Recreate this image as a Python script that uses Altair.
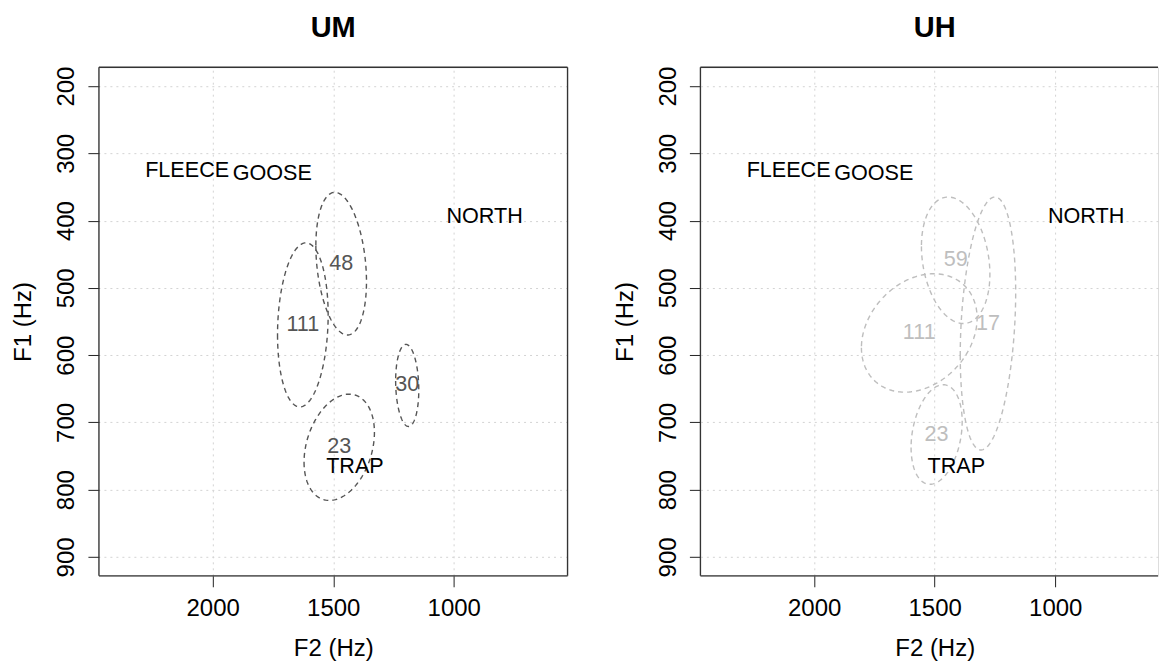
import numpy as np
import pandas as pd
import altair as alt

FONT = "Liberation Sans"

# Axis extents: 600-2400 Hz (F2) and 200-900 Hz (F1), each padded by 4 %
F2_RANGE = [528, 2472]
F1_RANGE = [172, 928]
F2_TICKS = [2000, 1500, 1000]
F1_TICKS = [200, 300, 400, 500, 600, 700, 800, 900]

# Reference vowel positions (same in both panels)
vowel_names = ["FLEECE", "GOOSE", "NORTH", "TRAP"]
vowel_f2 = [2106, 1753, 872, 1410]
vowel_f1 = [326, 331, 395, 766]

# Token ellipses per speaker group: centre, half-extent and F2/F1 correlation
ell_panel = ["UM", "UM", "UM", "UM", "UH", "UH", "UH", "UH"]
ell_n = [48, 111, 30, 23, 59, 111, 17, 23]
ell_f2 = [1467, 1626, 1193, 1475, 1413, 1564, 1279, 1492]
ell_f1 = [464, 555, 645, 737, 459, 567, 553, 718]
ell_half_f2 = [105, 105, 48, 146, 142, 240, 115, 106]
ell_half_f1 = [106, 122, 61, 79, 94, 88, 188, 74]
ell_r = [-0.25, 0.12, -0.11, 0.28, -0.22, 0.25, 0.25, 0.26]

panel_colors = {"UM": "#555555", "UH": "#bebebe"}

FULL_W = 469
PLOT_H = 509
PX_PER_HZ = FULL_W / (F2_RANGE[1] - F2_RANGE[0])
FRAME = "#333333"


def ellipse_outline(panel):
    t = np.linspace(0.0, 2.0 * np.pi, 181)
    rows = []
    for i, p in enumerate(ell_panel):
        if p != panel:
            continue
        r = ell_r[i]
        f2 = ell_f2[i] + ell_half_f2[i] * np.cos(t)
        f1 = ell_f1[i] + ell_half_f1[i] * (r * np.cos(t) + np.sqrt(1 - r * r) * np.sin(t))
        for k in range(len(t)):
            rows.append({"id": i, "k": k, "f2": float(f2[k]), "f1": float(f1[k])})
    return pd.DataFrame(rows)


def centres(panel):
    idx = [i for i, p in enumerate(ell_panel) if p == panel]
    return pd.DataFrame({
        "f2": [ell_f2[i] for i in idx],
        "f1": [ell_f1[i] for i in idx],
        "n": [str(ell_n[i]) for i in idx],
    })


vowels = pd.DataFrame({"vowel": vowel_names, "f2": vowel_f2, "f1": vowel_f1})


def encodings(f2_domain):
    x_enc = alt.X(
        "f2:Q",
        scale=alt.Scale(domain=f2_domain, reverse=True, nice=False, zero=False),
        axis=alt.Axis(
            values=F2_TICKS, format="d", title="F2 (Hz)", domain=False,
            grid=True, gridColor="#d3d3d3", gridDash=[2, 4], gridWidth=1,
            ticks=True, tickSize=11, tickColor="#222222", tickWidth=1,
            labelFont=FONT, labelFontSize=24, labelColor="black", labelPadding=9.5,
            labelFlush=False, labelOverlap=False,
            titleFont=FONT, titleFontSize=24, titleFontWeight="normal", titleColor="black",
            titleX=FULL_W / 2, titleY=80, titleBaseline="alphabetic", titleAlign="center",
        ),
    )
    y_enc = alt.Y(
        "f1:Q",
        scale=alt.Scale(domain=F1_RANGE, reverse=True, nice=False, zero=False),
        axis=alt.Axis(
            values=F1_TICKS, format="d", title="F1 (Hz)", domain=False,
            grid=True, gridColor="#d3d3d3", gridDash=[2, 4], gridWidth=1,
            ticks=True, tickSize=11, tickColor="#222222", tickWidth=1,
            labelFont=FONT, labelFontSize=24, labelColor="black", labelPadding=9,
            labelAngle=270, labelAlign="center", labelBaseline="bottom",
            labelFlush=False, labelOverlap=False,
            titleFont=FONT, titleFontSize=24, titleFontWeight="normal", titleColor="black",
            titleAngle=270, titleX=-68, titleBaseline="alphabetic",
        ),
    )
    return x_enc, y_enc


def frame(width, right_side):
    base = alt.Chart(pd.DataFrame({"a": [0]}))
    style = dict(color=FRAME, strokeWidth=1.3)
    parts = [
        base.mark_rule(**style).encode(x=alt.value(0), y=alt.value(0), y2=alt.value(PLOT_H)),
        base.mark_rule(**style).encode(x=alt.value(0), x2=alt.value(width), y=alt.value(0)),
        base.mark_rule(**style).encode(x=alt.value(0), x2=alt.value(width), y=alt.value(PLOT_H)),
    ]
    if right_side:
        parts.append(
            base.mark_rule(**style).encode(x=alt.value(width), y=alt.value(0), y2=alt.value(PLOT_H))
        )
    return parts


def panel(name, width, right_side):
    f2_domain = [F2_RANGE[1] - width / PX_PER_HZ, F2_RANGE[1]]
    x_enc, y_enc = encodings(f2_domain)
    color = panel_colors[name]
    lines = alt.Chart(ellipse_outline(name)).mark_line(
        color=color, strokeDash=[5, 4], strokeWidth=1.4
    ).encode(x=x_enc, y=y_enc, detail="id:N", order="k:Q")
    counts = alt.Chart(centres(name)).mark_text(
        font=FONT, fontSize=21.6, color=color, baseline="middle", align="center"
    ).encode(x=x_enc, y=y_enc, text="n:N")
    labels = alt.Chart(vowels).mark_text(
        font=FONT, fontSize=21.6, color="black", baseline="middle", align="center"
    ).encode(x=x_enc, y=y_enc, text="vowel:N")
    return alt.layer(lines, counts, labels, *frame(width, right_side)).properties(
        width=width,
        height=PLOT_H,
        title=alt.TitleParams(
            name, font=FONT, fontSize=29, fontWeight="bold", color="black",
            anchor="middle", frame="group", baseline="alphabetic", offset=0,
            dx=(FULL_W - width) / 2,
        ),
    )


# The right-hand panel runs off the edge of the page, so only its visible part is drawn
chart = alt.hconcat(
    panel("UM", FULL_W, True), panel("UH", 458, False), spacing=133, bounds="flush"
).properties(
    padding={"left": 11, "top": 13, "right": 0, "bottom": 0}
).configure_view(stroke=None).configure(background="white")

chart.save("out.html", embed_options={"renderer": "svg", "actions": False})
